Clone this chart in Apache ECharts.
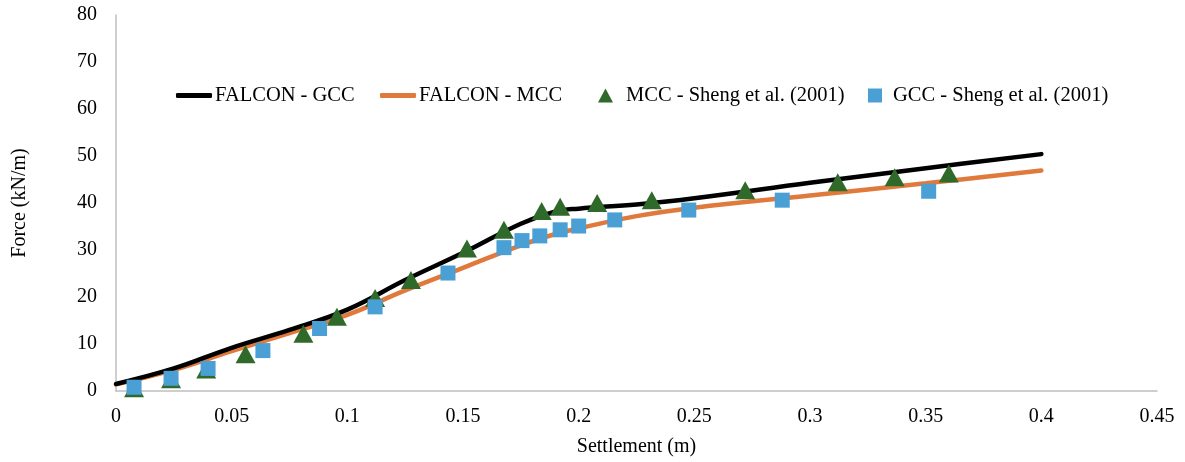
<!DOCTYPE html>
<html><head><meta charset="utf-8">
<script src="https://cdn.jsdelivr.net/npm/echarts@6/dist/echarts.min.js"></script>
<style>html,body{margin:0;padding:0;background:#fff}#c{width:1185px;height:462px}</style>
</head><body><div id="c"></div>
<script>
const xTicks = [0, 0.05, 0.1, 0.15, 0.2, 0.25, 0.3, 0.35, 0.4, 0.45];
const yTicks = [0, 10, 20, 30, 40, 50, 60, 70, 80];

const gccLineX = [0, 0.025, 0.05, 0.075, 0.1, 0.125, 0.15, 0.175, 0.19, 0.2, 0.225, 0.25, 0.3, 0.35, 0.4];
const gccLineY = [1.5, 4.8, 9.2, 13.0, 17.3, 23.6, 29.4, 35.6, 38.2, 38.8, 39.7, 41.0, 44.3, 47.4, 50.4];

const mccLineX = [0, 0.025, 0.05, 0.075, 0.1, 0.125, 0.15, 0.175, 0.19, 0.2, 0.225, 0.25, 0.3, 0.35, 0.4];
const mccLineY = [1.4, 4.5, 8.5, 12.3, 16.2, 21.4, 26.2, 31.0, 33.4, 34.6, 37.2, 39.0, 41.6, 44.2, 46.9];

const mccShengX = [0.0078, 0.0238, 0.039, 0.056, 0.081, 0.0955, 0.112, 0.1275, 0.1517, 0.1677, 0.184, 0.192, 0.208, 0.2316, 0.272, 0.312, 0.3366, 0.36];
const mccShengY = [0.6, 2.5, 4.6, 7.8, 12.2, 15.8, 19.8, 23.6, 30.3, 34.3, 38.3, 39.2, 40.0, 40.6, 42.7, 44.4, 45.5, 46.3];

const gccShengX = [0.0078, 0.0238, 0.0398, 0.0635, 0.088, 0.112, 0.1435, 0.1677, 0.1755, 0.1832, 0.192, 0.2, 0.2156, 0.2476, 0.288, 0.3513];
const gccShengY = [0.8, 2.7, 4.8, 8.6, 13.3, 17.9, 25.1, 30.5, 32.0, 33.0, 34.3, 35.1, 36.4, 38.5, 40.6, 42.5];

const zip = (a, b) => a.map((v, i) => [v, b[i]]);
const font = 'Liberation Serif, Times New Roman, serif';
const C = { gcc: '#000000', mcc: '#E07A3C', tri: '#2F6A2B', sq: '#4A9FD5' };

const chart = echarts.init(document.getElementById('c'), null, { renderer: 'canvas' });
const legendItem = (name, icon, left, w, h, pad) => ({
  data: [{ name: name, icon: icon }], left: left, top: 80, itemWidth: w, itemHeight: h, itemGap: 0,
  textStyle: { fontFamily: font, fontSize: 20.5, color: '#000', padding: [0, 0, 0, pad] },
  selectedMode: false
});
chart.setOption({
  animation: false,
  backgroundColor: '#fff',
  grid: { left: 116, right: 28, top: 15, bottom: 67, containLabel: false },
  legend: [
    legendItem('FALCON - GCC', 'roundRect', 171, 36, 5, -2),
    legendItem('FALCON - MCC', 'roundRect', 375, 36, 5, -2),
    legendItem('MCC - Sheng et al. (2001)', 'triangle', 593, 15, 14, 8),
    legendItem('GCC - Sheng et al. (2001)', 'rect', 863, 14, 14, 6)
  ],
  xAxis: {
    type: 'value', min: 0, max: 0.45, interval: 0.05,
    name: 'Settlement (m)', nameLocation: 'middle', nameGap: 46,
    nameTextStyle: { fontFamily: font, fontSize: 20, color: '#000' },
    axisLine: { show: true, lineStyle: { color: '#BFBFBF', width: 1.5 } },
    axisTick: { show: false }, splitLine: { show: false },
    axisLabel: { fontFamily: font, fontSize: 20, color: '#000', margin: 16,
      formatter: v => { const t = xTicks.find(k => Math.abs(k - v) < 1e-9); return t === undefined ? '' : String(t); } }
  },
  yAxis: {
    type: 'value', min: 0, max: 80, interval: 10,
    name: 'Force (kN/m)', nameLocation: 'middle', nameGap: 86, nameRotate: 90,
    nameTextStyle: { fontFamily: font, fontSize: 20, color: '#000' },
    axisLine: { show: true, lineStyle: { color: '#BFBFBF', width: 1.5 } },
    axisTick: { show: false }, splitLine: { show: false },
    axisLabel: { fontFamily: font, fontSize: 20, color: '#000', margin: 19,
      formatter: v => yTicks.includes(v) ? String(v) : '' }
  },
  series: [
    { name: 'FALCON - GCC', type: 'line', data: zip(gccLineX, gccLineY), smooth: 0.4, showSymbol: false,
      symbol: 'none', lineStyle: { color: C.gcc, width: 4.5, cap: 'round' }, itemStyle: { color: C.gcc }, z: 3 },
    { name: 'FALCON - MCC', type: 'line', data: zip(mccLineX, mccLineY), smooth: 0.4, showSymbol: false,
      symbol: 'none', lineStyle: { color: C.mcc, width: 4.5, cap: 'round' }, itemStyle: { color: C.mcc }, z: 2 },
    { name: 'MCC - Sheng et al. (2001)', type: 'scatter', data: zip(mccShengX, mccShengY), symbol: 'triangle',
      symbolSize: [20, 18], itemStyle: { color: C.tri, opacity: 1 }, z: 4 },
    { name: 'GCC - Sheng et al. (2001)', type: 'scatter', data: zip(gccShengX, gccShengY), symbol: 'rect',
      symbolSize: 15, itemStyle: { color: C.sq, opacity: 1 }, z: 5 }
  ]
});
</script></body></html>
